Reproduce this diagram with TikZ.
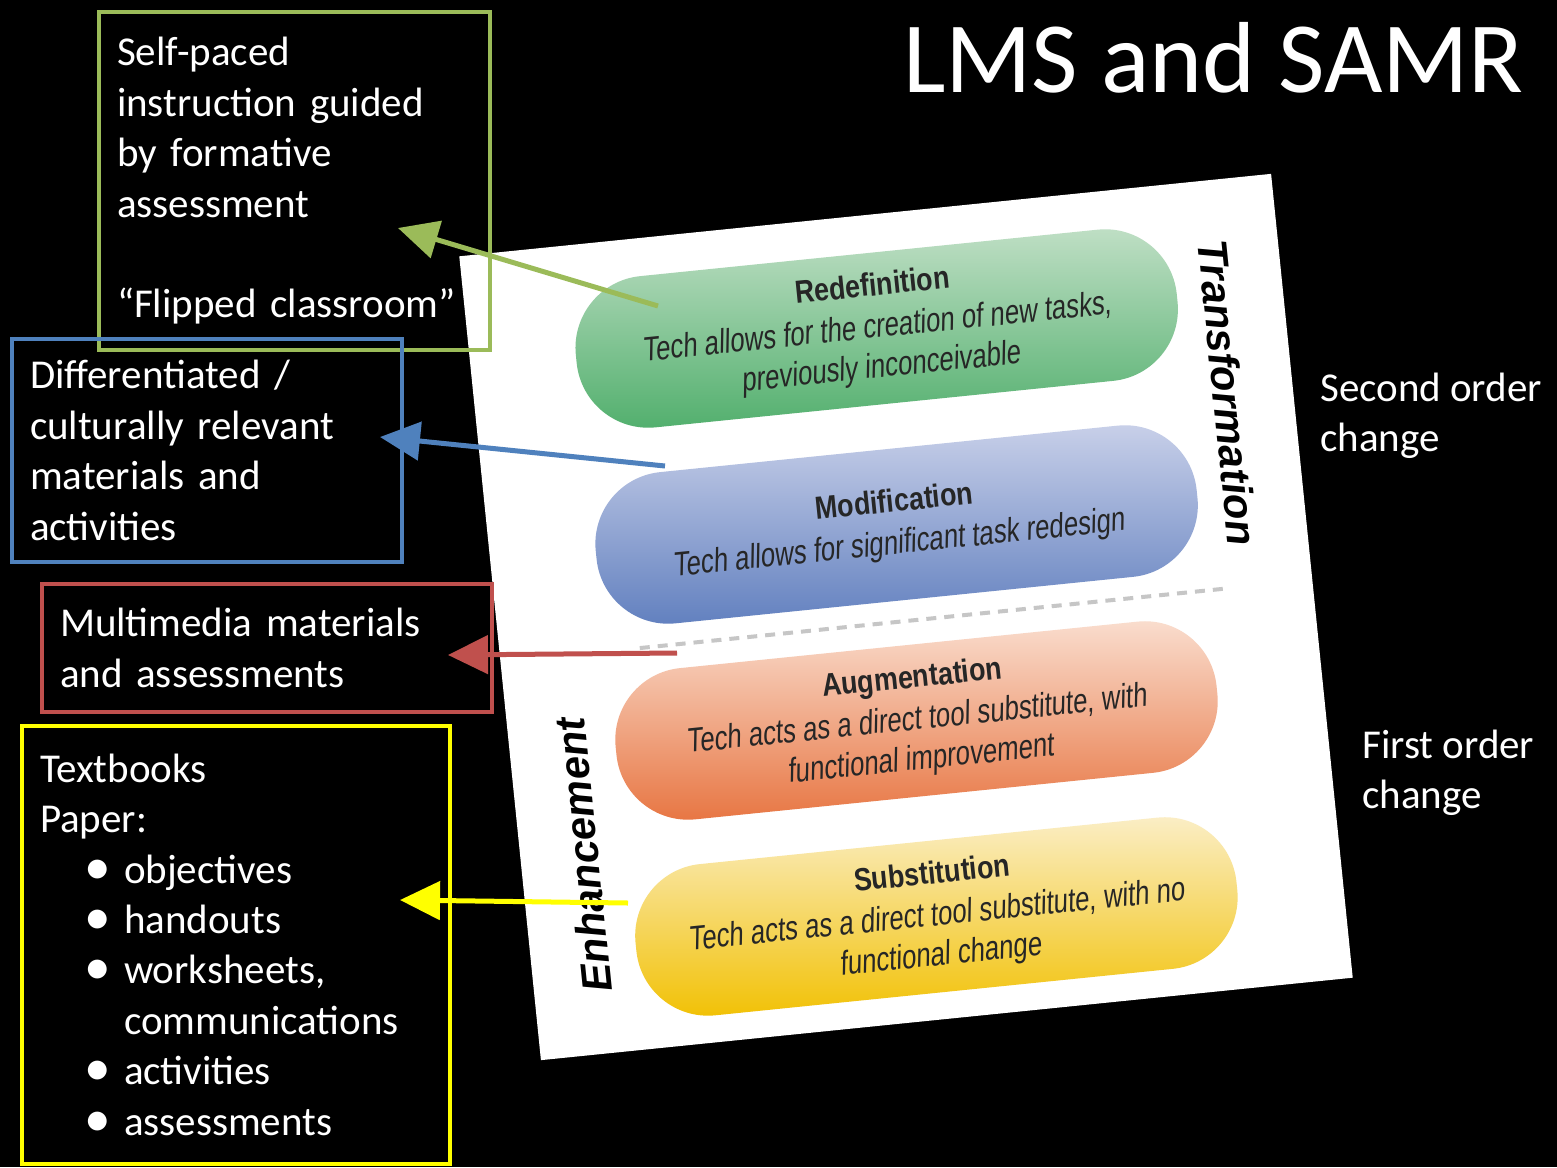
\documentclass[tikz,border=0pt]{standalone}
\usepackage{fontspec}
\usepackage{graphicx}
\setmainfont{Carlito}
\newfontfamily\samrhead{Liberation Sans}[FakeStretch=0.84]
\newfontfamily\samrtext{Liberation Sans}[FakeStretch=0.76,FakeSlant=0.12]
\newfontfamily\samrside{Liberation Sans}
\usetikzlibrary{
	arrows.meta
}

\definecolor{lmsgreen}{HTML}{9BBB59}
\definecolor{lmsblue}{HTML}{4F81BD}
\definecolor{lmsred}{HTML}{C0504D}
\definecolor{lmsyellow}{HTML}{FFFF00}
\definecolor{redeftop}{HTML}{C2E0C7}
\definecolor{redefbot}{HTML}{4FAE6B}
\definecolor{modiftop}{HTML}{CBD2EA}
\definecolor{modifbot}{HTML}{5F7EBE}
\definecolor{augmtop}{HTML}{FAE0D2}
\definecolor{augmbot}{HTML}{E7733F}
\definecolor{substtop}{HTML}{FBEFCB}
\definecolor{substbot}{HTML}{F1C000}

\newcommand{\samrtitle}[1]{{\samrhead\bfseries\fontsize{32}{40}\selectfont #1}}
\newcommand{\lmsdot}{\hspace*{44pt}\makebox[40pt][l]{\raisebox{-1pt}{\scalebox{1.3}{\textbullet}}}}

\tikzset{
	lmsbox/.style={draw=#1, line width=4pt, inner xsep=18pt, inner ysep=0pt,
		anchor=north west, align=left, text=white,
		font=\fontsize{41}{50.4}\selectfont},
	lmsarrow/.style={draw=#1, line width=5pt, -{Triangle[length=40pt,width=38pt,fill=#1]}},
	pill/.style 2 args={rounded corners=72pt, minimum width=604pt, minimum height=152pt,
		top color=#1, bottom color=#2, align=center, text=black!85,
		font=\samrtext\fontsize{34}{40}\selectfont},
	sidelabel/.style={text=white, align=left, anchor=west, inner sep=0pt,
		font=\fontsize{41}{50.4}\selectfont},
	phase/.style={text=black, inner sep=0pt,
		font=\samrside\bfseries\itshape\fontsize{42}{46}\selectfont},
	dashline/.style={draw=gray!45, line width=4pt, dash pattern=on 10pt off 8pt}
}

\begin{document}
\begin{tikzpicture}[x=1pt,y=-1pt]
	\fill[black] (0,0) rectangle (1557,1167);

	\begin{scope}[shift={(906,617)}, rotate=5.8, transform shape]
		\fill[white] (-408,-404) rectangle (408,404);
		\node[pill={redeftop}{redefbot}] (redef) at (0,-290)
			{\samrtitle{Redefinition}\\[2pt] Tech allows for the creation of new tasks,\\ previously inconceivable};
		\node[pill={modiftop}{modifbot}] (modif) at (0,-93)
			{\samrtitle{Modification}\\[2pt] Tech allows for significant task redesign};
		\node[pill={augmtop}{augmbot}] (augm) at (0,104)
			{\samrtitle{Augmentation}\\[2pt] Tech acts as a direct tool substitute, with\\ functional improvement};
		\node[pill={substtop}{substbot}] (subst) at (0,301)
			{\samrtitle{Substitution}\\[2pt] Tech acts as a direct tool substitute, with no\\ functional change};
		\draw[dashline] (-268,4) -- (320,4);
		\node[phase, rotate=-90] (transf) at (343,-191) {Transformation};
		\node[phase, rotate=90]  (enhanc) at (-345,204) {Enhancement};
	\end{scope}

	\node[anchor=base west, inner sep=0pt, text=white, font=\fontsize{101}{110}\selectfont]
		(title) at (903,92) {LMS and SAMR};

	\node[lmsbox=lmsgreen, text width=355pt, minimum height=338pt] (flipbox) at (97,10)
		{Self-paced\\ instruction~guided\\ by formative\\ assessment\\ \mbox{}\\ “Flipped~classroom”};
	\node[lmsbox=lmsblue, text width=354pt, minimum height=223pt] (diffbox) at (10,337)
		{Differentiated /\\ culturally~relevant\\ materials and\\ activities};
	\node[lmsbox=lmsred, text width=414pt, minimum height=128pt] (mediabox) at (40,582)
		{Multimedia~materials\\ and assessments};
	\node[lmsbox=lmsyellow, text width=392pt, minimum height=438pt] (paperbox) at (20,724)
		{Textbooks\\ Paper:\\ \lmsdot objectives\\ \lmsdot handouts\\ \lmsdot worksheets,\\
		\hspace*{84pt}communications\\ \lmsdot activities\\ \lmsdot assessments};

	\node[sidelabel] (second) at (1320,416) {Second order\\ change};
	\node[sidelabel] (first)  at (1362,773) {First order\\ change};

	\coordinate (gTail) at (658,306);
	\coordinate (gTip)  at (398,228);
	\coordinate (bTail) at (665,466);
	\coordinate (bTip)  at (380,437);
	\coordinate (rTail) at (677,653);
	\coordinate (rTip)  at (448,655);
	\coordinate (yTail) at (628,903);
	\coordinate (yTip)  at (400,900);

	\draw[lmsarrow=lmsgreen]  (gTail) -- (gTip);
	\draw[lmsarrow=lmsblue]   (bTail) -- (bTip);
	\draw[lmsarrow=lmsred]    (rTail) -- (rTip);
	\draw[lmsarrow=lmsyellow] (yTail) -- (yTip);
\end{tikzpicture}
\end{document}
